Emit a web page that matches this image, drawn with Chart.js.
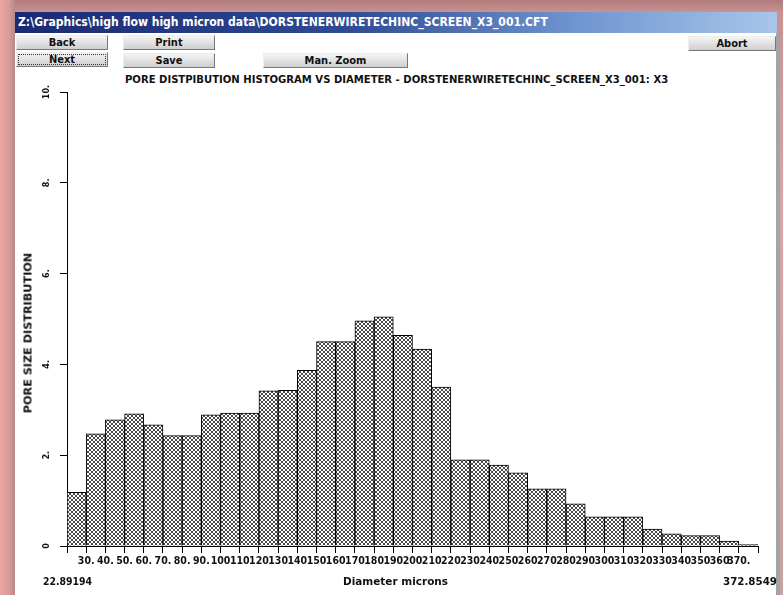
<!DOCTYPE html>
<html>
<head>
<meta charset="utf-8">
<script src="https://cdn.jsdelivr.net/npm/chart.js@4"></script>
<style>
  html, body { margin: 0; padding: 0; }
  body {
    width: 783px; height: 595px; overflow: hidden; position: relative;
    background: linear-gradient(180deg, #b27b7b 0px, #c89292 12px, #d8a6a6 200px, #c7a3a3 595px);
    font-family: "DejaVu Sans Condensed", "Liberation Sans Narrow", sans-serif;
  }
  #leftEdge {
    position: absolute; left: 0; top: 0; width: 15px; height: 595px;
    background: linear-gradient(90deg, #eba4a4 0px, #d99a9a 9px, #b88888 15px);
  }
  #win {
    position: absolute; left: 15px; top: 12px; width: 762px; height: 583px;
    background: #fff;
  }
  #winRight {
    position: absolute; left: 776px; top: 33px; width: 4px; height: 562px; background: #a4a4a4;
  }
  #titlebar {
    position: absolute; left: 0; top: 0; width: 762px; height: 21px;
    background: linear-gradient(90deg, #1a2a72 0px, #2f4a94 330px, #6f95cf 560px, #a9c5ea 762px);
  }
  .btn {
    position: absolute; height: 15px; box-sizing: border-box;
    background: linear-gradient(180deg, #f4f4f4, #cfcfcf);
    border: 1px solid #eee; border-right-color: #777; border-bottom-color: #777;
    font-size: 11px; font-weight: bold; line-height: 13px; text-align: center; color: #111;
  }
  .txt {
    position: absolute; font-size: 10px; font-weight: bold; color: #111; white-space: nowrap;
    transform-origin: 0 50%;
  }
  #yTitle {
    position: absolute; left: 28px; top: 333px; font-size: 11px; font-weight: bold; color: #111;
    white-space: nowrap; transform: translate(-50%, -50%) rotate(-90deg);
  }
  #chartCanvas { position: absolute; left: 0; top: 0; }
</style>
</head>
<body>
<div id="leftEdge"></div>
<div id="win">
  <div id="titlebar"></div>
  <div class="btn" style="left:1px;top:23px;width:92px;">Back</div>
  <div class="btn" style="left:1px;top:40px;width:92px;outline:1px dotted #333;outline-offset:-3px;">Next</div>
  <div class="btn" style="left:108px;top:23px;width:92px;">Print</div>
  <div class="btn" style="left:108px;top:41px;width:92px;">Save</div>
  <div class="btn" style="left:248px;top:41px;width:145px;">Man. Zoom</div>
  <div class="btn" style="left:673px;top:24px;width:88px;">Abort</div>
</div>
<div id="winRight"></div>
<div class="txt" style="left:18px;top:15px;font-size:12px;color:#fff;" data-w="530">Z:\Graphics\high flow high micron data\DORSTENERWIRETECHINC_SCREEN_X3_001.CFT</div>
<div class="txt" style="left:125px;top:74px;font-size:10px;" data-w="543">PORE DISTPIBUTION HISTOGRAM VS DIAMETER - DORSTENERWIRETECHINC_SCREEN_X3_001: X3</div>
<canvas id="chartCanvas" width="783" height="595"></canvas>
<div id="yTitle"><span class="fit" data-w="160">PORE SIZE DISTRIBUTION</span></div>
<div class="txt" style="left:43px;top:575px;font-size:11px;" data-w="49">22.89194</div>
<div class="txt" style="left:343px;top:575px;font-size:11px;" data-w="105">Diameter microns</div>
<div class="txt" style="left:723px;top:575px;font-size:11px;" data-w="54">372.8549</div>
<script>
// x tick labels sit on the bin edges (35 inner edges)
const edgeLabels = ['30.', '40.', '50.', '60.', '70.', '80.', '90.', '100', '110', '120',
  '130', '140', '150', '160', '170', '180', '190', '200', '210', '220', '230', '240',
  '250', '260', '270', '280', '290', '300', '310', '320', '330', '340', '350', '360', '370.'];

// pore size distribution per bin, 36 bins
const poreSizeDist = [1.18, 2.47, 2.78, 2.91, 2.67, 2.43, 2.43, 2.89, 2.93, 2.93,
  3.42, 3.43, 3.87, 4.5, 4.5, 4.96, 5.05, 4.64, 4.34, 3.5,
  1.9, 1.9, 1.78, 1.61, 1.26, 1.26, 0.93, 0.64, 0.64, 0.64,
  0.37, 0.27, 0.23, 0.23, 0.11, 0.03];

const yTickLabels = { 0: '0', 2: '2.', 4: '4.', 6: '6.', 8: '8.', 10: '10.' };

// old screenshot text is wide, stretch each line to its width
document.querySelectorAll('.txt[data-w]').forEach(el => {
  const w = el.getBoundingClientRect().width;
  el.style.transform = `scaleX(${(+el.dataset.w / w).toFixed(3)})`;
});
const yt = document.querySelector('#yTitle .fit');
yt.style.display = 'inline-block';
yt.style.transform = `scaleX(${(+yt.dataset.w / yt.offsetWidth).toFixed(3)})`;

function makeHatch() {
  const c = document.createElement('canvas');
  c.width = 4; c.height = 4;
  const g = c.getContext('2d');
  g.fillStyle = '#fff';
  g.fillRect(0, 0, 4, 4);
  g.fillStyle = '#4a4a4a';
  [[0, 0], [1, 1], [2, 2], [3, 3], [3, 0], [2, 1], [1, 2], [0, 3]].forEach(p => g.fillRect(p[0], p[1], 1, 1));
  return g.createPattern(c, 'repeat');
}

const tickFont = { family: '"DejaVu Sans Condensed", "Liberation Sans Narrow", sans-serif', size: 10.5, weight: 'bold' };

new Chart(document.getElementById('chartCanvas'), {
  type: 'bar',
  data: {
    datasets: [{
      data: poreSizeDist.map((v, i) => ({ x: i + 0.5, y: v })),
      backgroundColor: makeHatch(),
      borderColor: '#000',
      borderWidth: 1,
      barPercentage: 1,
      categoryPercentage: 1
    }]
  },
  options: {
    responsive: false,
    animation: false,
    layout: { padding: { left: 0, top: 92, right: 25, bottom: 0 } },
    plugins: { legend: { display: false }, tooltip: { enabled: false } },
    scales: {
      x: {
        type: 'linear',
        offset: false,
        min: 0,
        max: 36,
        afterFit: s => { s.height = 49; },
        border: { color: '#000', width: 1 },
        grid: { offset: false, drawOnChartArea: false, drawTicks: true, tickLength: 7, color: '#000' },
        ticks: {
          stepSize: 1,
          autoSkip: false,
          maxRotation: 0,
          padding: 2,
          color: '#111',
          font: tickFont,
          callback: v => (v >= 1 && v <= 35 ? edgeLabels[v - 1] : '')
        }
      },
      y: {
        min: 0,
        max: 10,
        afterFit: s => { s.width = 67; },
        border: { color: '#000', width: 1 },
        grid: { drawOnChartArea: false, drawTicks: true, tickLength: 7, color: '#000' },
        ticks: {
          stepSize: 2,
          minRotation: 90,
          maxRotation: 90,
          crossAlign: 'center',
          padding: 6,
          color: '#111',
          font: { family: tickFont.family, size: 9, weight: 'bold' },
          callback: v => yTickLabels[v]
        }
      }
    }
  }
});
</script>
</body>
</html>
